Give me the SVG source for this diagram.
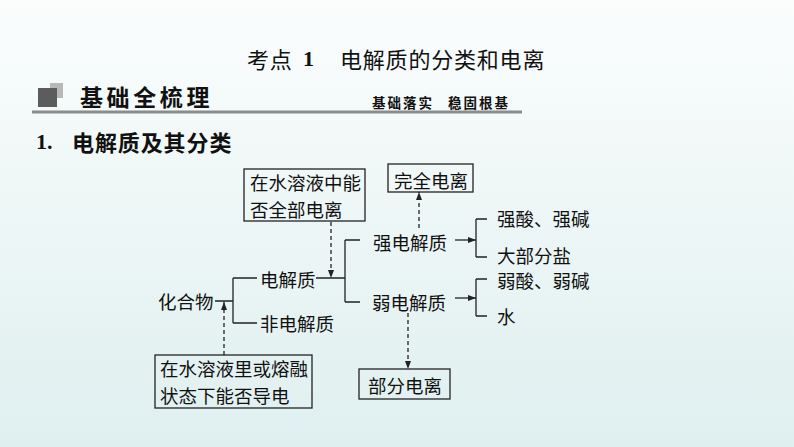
<svg xmlns="http://www.w3.org/2000/svg" width="794" height="447" viewBox="0 0 794 447">
  <defs>
    <linearGradient id="bg" x1="0" y1="0" x2="0" y2="1">
      <stop offset="0" stop-color="#fbfdfd"/>
      <stop offset="1" stop-color="#dfefef"/>
    </linearGradient>
    <marker id="ah" viewBox="0 0 8 6" refX="8" refY="3" markerWidth="8" markerHeight="6" markerUnits="userSpaceOnUse" orient="auto">
      <path d="M0,0 L8,3 L0,6 Z" fill="#222"/>
    </marker>
    <style>
      text { font-family: "Noto Sans CJK SC", "Liberation Sans", sans-serif; fill: #111; }
      .t { font-size: 18.5px; dominant-baseline: central; }
      .box { fill: none; stroke: #222; stroke-width: 1.3; }
      .ln { fill: none; stroke: #222; stroke-width: 1.3; }
      .dash { fill: none; stroke: #222; stroke-width: 1.3; stroke-dasharray: 4 3; }
      .arr { marker-end: url(#ah); }
    </style>
  </defs>
  <rect x="0" y="0" width="794" height="447" fill="url(#bg)"/>

  <g id="header">
    <text x="247" y="58" style="font-size:22px;dominant-baseline:central;letter-spacing:0.8px">考点</text>
    <text x="303" y="58" style="font-family:'Liberation Serif',serif;font-weight:bold;font-size:22px;dominant-baseline:central">1</text>
    <text x="340" y="58" style="font-size:22px;dominant-baseline:central;letter-spacing:0.8px">电解质的分类和电离</text>
    <rect x="50" y="83" width="13" height="15" fill="#b8b8b8"/>
    <rect x="38" y="88" width="19" height="19" fill="#5c5c5c"/>
    <text x="80" y="96" style="font-size:23px;font-weight:bold;dominant-baseline:central;letter-spacing:3.6px">基础全梳理</text>
    <text x="372" y="102" style="font-size:13.5px;font-weight:bold;dominant-baseline:central;letter-spacing:2px">基础落实</text>
    <text x="448" y="102" style="font-size:13.5px;font-weight:bold;dominant-baseline:central;letter-spacing:2px">稳固根基</text>
    <rect x="32" y="110.5" width="490" height="3" fill="#8c8c8c"/>
    <text x="36" y="141" style="font-family:'Liberation Serif',serif;font-weight:bold;font-size:22px;dominant-baseline:central">1.</text>
    <text x="72" y="141" style="font-size:22px;font-weight:600;dominant-baseline:central;letter-spacing:0.9px">电解质及其分类</text>
  </g>

  <g id="connectors">
    <path class="ln" d="M215,301 H233 M233,278 V323 M233,278 H257 M233,323 H257"/>
    <path class="ln" d="M316,278 H345 M345,240 V302 M345,240 H360 M345,302 H360"/>
    <path class="ln" d="M476,219 V257 M476,219 H487 M476,257 H487"/>
    <path class="ln" d="M476,279 V316 M476,279 H487 M476,316 H487"/>
    <path class="ln arr" d="M455,240 H476"/>
    <path class="ln arr" d="M455,298 H476"/>
    <path class="dash arr" d="M331,222 V278"/>
    <path class="dash arr" d="M419,228 V192"/>
    <path class="dash arr" d="M408,313 V369"/>
    <path class="dash arr" d="M224,355 V302"/>
  </g>

  <g id="node-criterion1">
    <rect class="box" x="244" y="169" width="121" height="52"/>
    <text class="t"><tspan x="250" y="181.5">在水溶液中能</tspan><tspan x="250" y="208.5">否全部电离</tspan></text>
  </g>
  <g id="node-complete">
    <rect class="box" x="388" y="164" width="85" height="28"/>
    <text class="t" x="394" y="180">完全电离</text>
  </g>
  <g id="node-compound">
    <text class="t" x="158" y="301">化合物</text>
  </g>
  <g id="node-electrolyte">
    <text class="t" x="260" y="279">电解质</text>
  </g>
  <g id="node-nonelectrolyte">
    <text class="t" x="260" y="323">非电解质</text>
  </g>
  <g id="node-strong">
    <text class="t" x="373" y="242">强电解质</text>
  </g>
  <g id="node-weak">
    <text class="t" x="372" y="302">弱电解质</text>
  </g>
  <g id="node-strong-acid">
    <text class="t" x="497" y="218">强酸、强碱</text>
  </g>
  <g id="node-salt">
    <text class="t" x="497" y="255">大部分盐</text>
  </g>
  <g id="node-weak-acid">
    <text class="t" x="497" y="280">弱酸、弱碱</text>
  </g>
  <g id="node-water">
    <text class="t" x="497" y="316">水</text>
  </g>
  <g id="node-partial">
    <rect class="box" x="359" y="369" width="91" height="30"/>
    <text class="t" x="368" y="385">部分电离</text>
  </g>
  <g id="node-criterion2">
    <rect class="box" x="155" y="355" width="157" height="53"/>
    <text class="t"><tspan x="160" y="368">在水溶液里或熔融</tspan><tspan x="160" y="395">状态下能否导电</tspan></text>
  </g>
</svg>
